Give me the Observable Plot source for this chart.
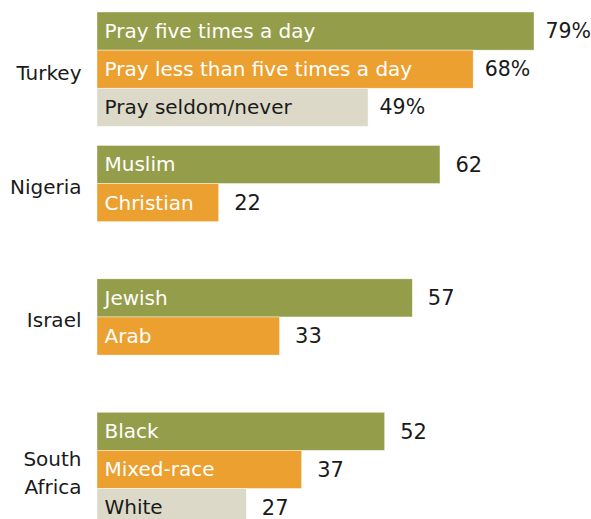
<!DOCTYPE html>
<html>
<head>
<meta charset="utf-8">
<script src="https://cdn.jsdelivr.net/npm/d3@7"></script>
<script src="https://cdn.jsdelivr.net/npm/@observablehq/plot@0.6"></script>
<style>
  html, body { margin: 0; padding: 0; background: #fff; }
  #chart svg { display: block; overflow: hidden; }
</style>
</head>
<body>
<div id="chart"></div>
<script>
const countries = ["Turkey", "Nigeria", "Israel", "South Africa"];
const countryText = ["Turkey", "Nigeria", "Israel", "South\nAfrica"];
const subgroupLabels = [
  ["Pray five times a day", "Pray less than five times a day", "Pray seldom/never"],
  ["Muslim", "Christian"],
  ["Jewish", "Arab"],
  ["Black", "Mixed-race", "White"]
];
const values = [
  [79, 68, 49],
  [62, 22],
  [57, 33],
  [52, 37, 27]
];
const valueSuffix = ["%", "", "", ""];
const colors = ["#949d4a", "#eba030", "#dcd9c8"];
const textColors = ["#ffffff", "#ffffff", "#1a1a1a"];

const groupStep = 3.5; // 3 slots + half-slot gap

const rows = countries.flatMap((c, g) =>
  values[g].map((v, i) => ({
    country: c,
    slot: i,
    pos: g * groupStep + i,
    label: subgroupLabels[g][i],
    value: v,
    pct: valueSuffix[g] === "%",
    text: v + valueSuffix[g]
  }))
);

const countryRows = countries.map((c, g) => ({
  country: c,
  text: countryText[g],
  center: g * groupStep + values[g].length / 2
}));

const chart = Plot.plot({
  width: 591,
  height: 519,
  marginLeft: 97,
  marginRight: 0,
  marginTop: 12,
  marginBottom: 0,
  style: { fontFamily: "DejaVu Sans", fontSize: "20px", background: "#fff" },
  x: { domain: [0, 89.3], axis: null },
  y: { domain: [0, 13.3], range: [12, 519], axis: null },
  marks: [
    Plot.rectX(rows, {
      x1: 0,
      x2: "value",
      y1: "pos",
      y2: d => d.pos + 1,
      fill: d => colors[d.slot],
      stroke: "#ffffff",
      strokeWidth: 0.6,
      strokeOpacity: 0.7
    }),
    Plot.text(rows, {
      x: 0,
      y: d => d.pos + 0.5,
      text: "label",
      textAnchor: "start",
      dx: 7,
      fontSize: 20,
      fill: d => textColors[d.slot]
    }),
    Plot.text(rows.filter(d => d.pct), {
      x: "value",
      y: d => d.pos + 0.5,
      text: "text",
      textAnchor: "start",
      dx: 11,
      fontSize: 20.5,
      fill: "#1a1a1a"
    }),
    Plot.text(rows.filter(d => !d.pct), {
      x: "value",
      y: d => d.pos + 0.5,
      text: "text",
      textAnchor: "start",
      dx: 15,
      fontSize: 21,
      fill: "#1a1a1a"
    }),
    Plot.text(countryRows, {
      x: 0,
      y: "center",
      text: "text",
      textAnchor: "end",
      dx: -16,
      dy: 1,
      lineHeight: 1.4,
      fontSize: 20,
      fill: "#1a1a1a"
    })
  ]
});

document.getElementById("chart").append(chart);
</script>
</body>
</html>
